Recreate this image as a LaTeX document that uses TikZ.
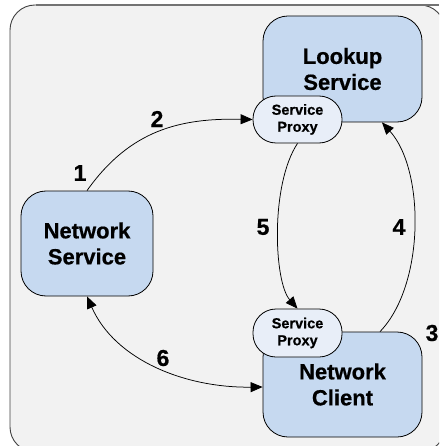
\documentclass[tikz,border=0pt]{standalone}
\usepackage{fontspec}
\setmainfont{Liberation Sans}[BoldFeatures={FakeBold=0.6}]
\usetikzlibrary{arrows.meta,calc}
\definecolor{boxblue}{RGB}{198,217,240}
\definecolor{proxyblue}{RGB}{232,238,248}
\definecolor{framefill}{RGB}{242,242,242}
\tikzset{
  mainbox/.style={draw=black, line width=0.8pt, fill=boxblue, rounded corners=25pt,
    align=center, font=\fontsize{22}{26}\selectfont\bfseries, inner sep=0pt},
  proxybox/.style={draw=black, line width=0.8pt, fill=proxyblue, rounded corners=23pt,
    align=center, font=\fontsize{14.5}{17}\selectfont\bfseries, inner sep=0pt,
    minimum width=89pt, minimum height=47pt},
  numlabel/.style={font=\fontsize{23}{24}\selectfont\bfseries, inner sep=0pt},
  flow/.style={line width=0.75pt, -{Triangle[length=12pt,width=10pt]}},
  bothflow/.style={line width=0.75pt, {Triangle[length=12pt,width=10pt]}-{Triangle[length=12pt,width=10pt]}}
}
\begin{document}
\begin{tikzpicture}[x=1pt,y=-1pt]
\useasboundingbox (0,0) rectangle (439,446);
\begin{scope}
\clip (0,0) rectangle (439,446);
\draw[fill=framefill, draw=black!75, line width=0.9pt, rounded corners=25pt] (10,5) rectangle (445,452);
\draw[draw=black!55, line width=1.6pt] (36,5) -- (439,5);
\end{scope}
\node[mainbox, minimum width=159pt, minimum height=106pt] (ls) at (342.5,69) {Lookup\\Service};
\node[mainbox, minimum width=132pt, minimum height=105pt] (ns) at (87,243.5) {Network\\Service};
\node[mainbox, minimum width=159pt, minimum height=105pt] (nc) at (342.5,384.5) {Network\\Client};
\node[proxybox] (pt) at (297.5,119.5) {Service\\Proxy};
\node[proxybox, minimum height=48pt] (pb) at (297.5,333) {Service\\Proxy};
\draw[flow] (ns.north) .. controls (130,130) and (180,118) .. (pt.west);
\draw[flow] (pt.south) .. controls (270,185) and (274,282) .. (pb.north);
\draw[flow] ([xshift=37.5pt]nc.north) .. controls (425,285) and (425,170) .. ([xshift=39.5pt]ls.south);
\draw[bothflow] (ns.south) .. controls (115,360) and (185,388) .. ([yshift=-2.5pt]nc.west);
\node[numlabel] (n1) at (80,173) {1};
\node[numlabel] (n2) at (157,119) {2};
\node[numlabel] (n3) at (432,333) {3};
\node[numlabel] (n4) at (399,227) {4};
\node[numlabel] (n5) at (263,227) {5};
\node[numlabel] (n6) at (163,358) {6};
\end{tikzpicture}
\end{document}
